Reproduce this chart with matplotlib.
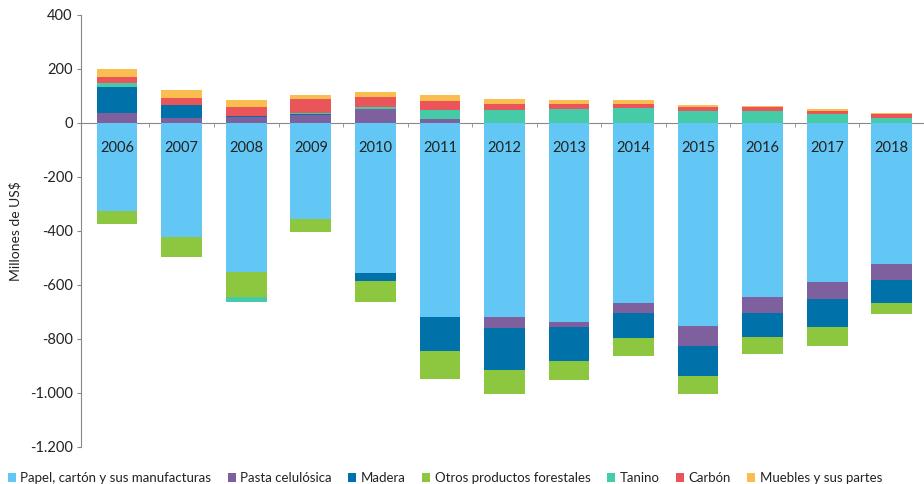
import matplotlib
matplotlib.use("Agg")
import matplotlib.pyplot as plt
import numpy as np
from matplotlib.ticker import FuncFormatter, FixedLocator

plt.rcParams['font.family'] = ['Lato', 'DejaVu Sans']

# Datos (millones de US$)
years = ["2006", "2007", "2008", "2009", "2010", "2011", "2012",
         "2013", "2014", "2015", "2016", "2017", "2018"]

papel = [-327, -422, -552, -354, -556, -720, -719, -737, -668, -751, -644, -588, -523]
pasta = [38, 20, 21, 30, 52, 15, -42, -19, -37, -74, -61, -62, -57]
madera = [96, 47, 5, 3, -28, -123, -155, -124, -92, -111, -88, -106, -88]
otros = [-48, -74, -91, -50, -79, -105, -89, -73, -65, -69, -64, -69, -39]
tanino = [15, 0, -20, 5, 8, 33, 48, 52, 57, 43, 43, 35, 19]
carbon = [22, 27, 34, 51, 38, 35, 22, 17, 12, 16, 17, 9, 14]
muebles = [29, 27, 24, 13, 18, 19, 19, 15, 15, 8, 2, 8, 5]

series_names = ["Papel, cartón y sus manufacturas", "Pasta celulósica", "Madera",
                "Otros productos forestales", "Tanino", "Carbón", "Muebles y sus partes"]
series_vals = [papel, pasta, madera, otros, tanino, carbon, muebles]
colors = ["#63C7F5", "#7F609E", "#0071A9", "#8DC63F", "#45CBA8", "#EA5559", "#F9BE4F"]

fig = plt.figure(figsize=(9.24, 4.84), dpi=100)
ax = fig.add_axes([81 / 924, 1 - 447 / 484, 843 / 924, 432 / 484])

x = np.arange(len(years))
pos_bottom = np.zeros(len(years))
neg_bottom = np.zeros(len(years))
handles = []
for name, vals, col in zip(series_names, series_vals, colors):
    v = np.array(vals, dtype=float)
    bottom = np.where(v >= 0, pos_bottom, neg_bottom)
    b = ax.bar(x, v, width=0.63, bottom=bottom, color=col, label=name, zorder=1)
    handles.append(b)
    pos_bottom += np.where(v >= 0, v, 0)
    neg_bottom += np.where(v < 0, v, 0)

ax.set_xlim(-0.56, 12.5)
ax.set_ylim(-1200, 400)
ax.set_yticks(np.arange(-1200, 401, 200))
ax.yaxis.set_major_formatter(FuncFormatter(lambda v, p: f"{int(v):,}".replace(",", ".")))
ax.tick_params(axis='y', direction='out', length=3, color='#888888', labelsize=10.5,
               labelcolor='#222222', pad=3)
ax.set_ylabel("Millones de US$", fontsize=10, color='#222222', labelpad=6)

# eje x en cero, etiquetas sobre las barras
ax.spines['bottom'].set_position(('data', 0))
ax.spines['bottom'].set_color('#888888')
ax.spines['bottom'].set_zorder(0.5)
ax.spines['left'].set_color('#888888')
ax.spines['top'].set_visible(False)
ax.spines['right'].set_visible(False)
ax.set_xticks(x)
ax.set_xticklabels(years)
ax.xaxis.set_minor_locator(FixedLocator(np.arange(0.5, 12.6, 1)))
ax.tick_params(axis='x', which='major', length=0, pad=13, labelsize=10.5, labelcolor='#222222')
ax.tick_params(axis='x', which='minor', direction='out', length=3, color='#888888')
ax.set_axisbelow(False)

fig.legend(handles=handles, labels=series_names, loc='center', ncol=7,
           bbox_to_anchor=(445 / 924, 1 - 478 / 484), frameon=False, fontsize=9.5,
           handlelength=0.6, handleheight=0.6, handletextpad=0.35, columnspacing=1.25,
           labelcolor='#222222')

fig.savefig("out.png", dpi=100)
